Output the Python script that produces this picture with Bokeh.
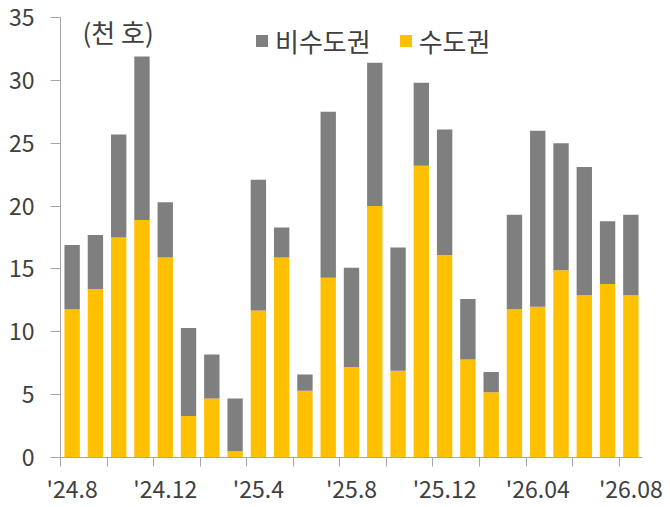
from bokeh.plotting import figure
from bokeh.models import ColumnDataSource, Range1d, FixedTicker, Legend, LegendItem, Label
from bokeh.embed import file_html
from bokeh.resources import INLINE

months = ["24.08", "24.09", "24.10", "24.11", "24.12", "25.01", "25.02", "25.03", "25.04",
          "25.05", "25.06", "25.07", "25.08", "25.09", "25.10", "25.11", "25.12", "26.01",
          "26.02", "26.03", "26.04", "26.05", "26.06", "26.07", "26.08"]
metro = [11.8, 13.4, 17.5, 18.9, 15.9, 3.3, 4.7, 0.5, 11.7, 15.9, 5.3, 14.3, 7.2,
         20.0, 6.9, 23.2, 16.1, 7.8, 5.2, 11.8, 12.0, 14.9, 12.9, 13.8, 12.9]
nonmetro = [5.1, 4.3, 8.2, 13.0, 4.4, 7.0, 3.5, 4.2, 10.4, 2.4, 1.3, 13.2, 7.9,
            11.4, 9.8, 6.6, 10.0, 4.8, 1.6, 7.5, 14.0, 10.1, 10.2, 5.0, 6.4]
tick_labels = ["'24.8", "'24.12", "'25.4", "'25.8", "'25.12", "'26.04", "'26.08"]
y_ticks = [0, 5, 10, 15, 20, 25, 30, 35]

FONT = "Noto Sans CJK KR"
GRAY = "#7F7F7F"
YELLOW = "#FFC000"
TEXT = "#404040"
AXIS = "#A6A6A6"
FS = "23px"
FS_KR = "26px"

n = len(months)
source = ColumnDataSource(dict(x=[i + 0.5 for i in range(n)], metro=metro, nonmetro=nonmetro))

p = figure(width=670, height=507, output_backend="svg", toolbar_location=None,
           x_range=Range1d(0, n), y_range=Range1d(0, 35),
           min_border_left=60, min_border_right=28, min_border_top=17, min_border_bottom=49)
p.outline_line_color = None
p.xgrid.visible = False
p.ygrid.visible = False

rs = p.vbar_stack(["metro", "nonmetro"], x="x", width=0.66, color=[YELLOW, GRAY],
                  line_color=None, source=source)

# x axis: labels under every 4th bar, tick marks at every 2nd bar boundary
label_pos = [i * 4 + 0.5 for i in range(len(tick_labels))]
p.xaxis.ticker = FixedTicker(ticks=label_pos, minor_ticks=list(range(0, n, 2)))
p.xaxis.major_label_overrides = {pos: lab for pos, lab in zip(label_pos, tick_labels)}
p.xaxis.major_tick_out = 0
p.xaxis.major_tick_in = 0
p.xaxis.minor_tick_out = 9
p.xaxis.minor_tick_in = 0
p.xaxis.minor_tick_line_color = AXIS
p.xaxis.axis_line_color = AXIS
p.xaxis.major_label_standoff = 4
p.xaxis.major_label_text_font = FONT
p.xaxis.major_label_text_font_size = FS
p.xaxis.major_label_text_color = TEXT

p.yaxis.ticker = FixedTicker(ticks=y_ticks)
p.yaxis.major_tick_out = 10
p.yaxis.major_tick_in = 0
p.yaxis.minor_tick_line_color = None
p.yaxis.major_tick_line_color = AXIS
p.yaxis.axis_line_color = AXIS
p.yaxis.major_label_standoff = 16
p.yaxis.major_label_text_font = FONT
p.yaxis.major_label_text_font_size = FS
p.yaxis.major_label_text_color = TEXT

legend = Legend(items=[LegendItem(label="비수도권", renderers=[rs[1]]),
                       LegendItem(label="수도권", renderers=[rs[0]])],
                orientation="horizontal", location=(194, 398),
                padding=0, margin=0, spacing=27, glyph_width=15, glyph_height=15,
                label_standoff=6, label_text_font=FONT, label_text_font_size=FS_KR,
                label_text_color=TEXT, background_fill_alpha=0, border_line_color=None)
p.add_layout(legend)

unit = Label(x=22, y=426, x_units="screen", y_units="screen", text="(천 호)",
             text_font=FONT, text_font_size=FS_KR, text_color=TEXT, text_baseline="middle")
p.add_layout(unit)

open("out.html", "w").write(file_html(p, INLINE))
